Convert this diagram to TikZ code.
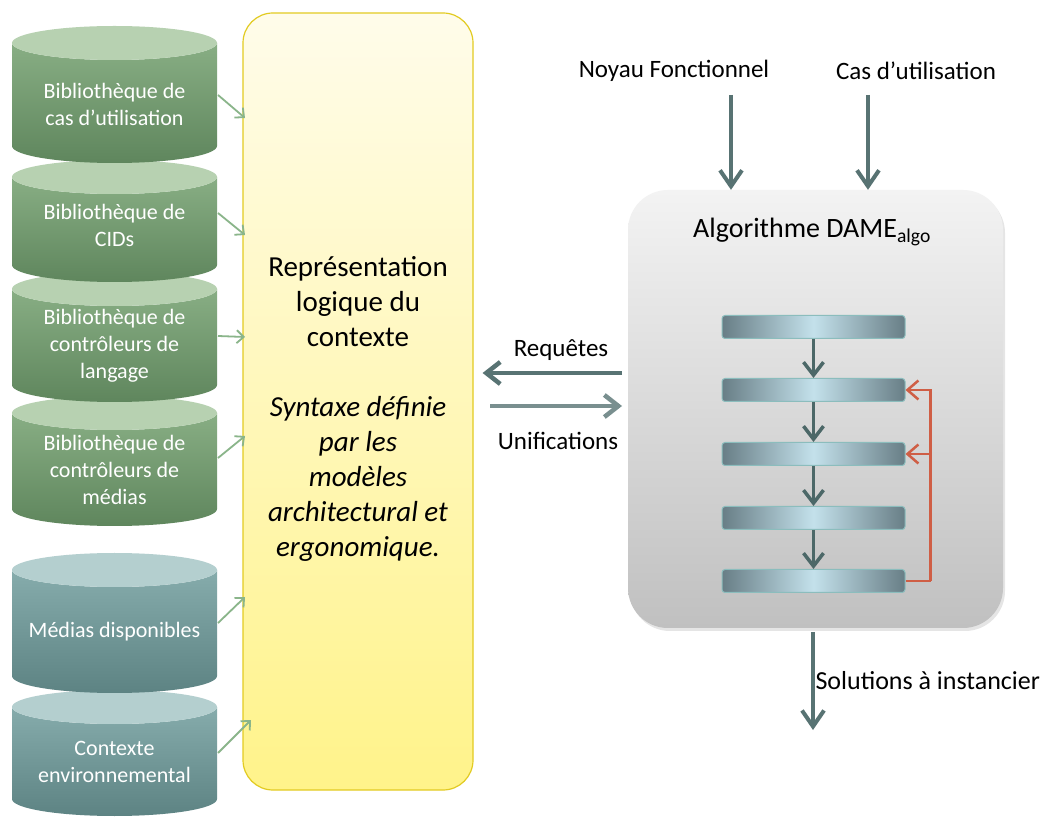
\documentclass[tikz,border=0pt]{standalone}
\usepackage{fontspec}
\setmainfont{Carlito}
\usetikzlibrary{arrows.meta,shadows}
\definecolor{gtop}{HTML}{B7D1B1}
\definecolor{gbodyA}{HTML}{88AE84}
\definecolor{gbodyB}{HTML}{5F865D}
\definecolor{ttop}{HTML}{B4CFCF}
\definecolor{tbodyA}{HTML}{86ACAC}
\definecolor{tbodyB}{HTML}{5D8383}
\definecolor{yelA}{HTML}{FFFCEA}
\definecolor{yelB}{HTML}{FFF38A}
\definecolor{yelD}{HTML}{E2CB22}
\definecolor{greyA}{HTML}{F3F3F3}
\definecolor{greyB}{HTML}{C0C0C0}
\definecolor{barEnd}{HTML}{687E86}
\definecolor{barMid}{HTML}{C4E1EB}
\definecolor{barLine}{HTML}{8BBDBD}
\definecolor{darkArr}{HTML}{587373}
\definecolor{barArr}{HTML}{4C6868}
\definecolor{greenArr}{HTML}{8AB58A}
\definecolor{redArr}{HTML}{CF5E45}
\newcommand\drawcyl[5]{%
  \shade[top color=#4,bottom color=#5] (12,#1-17) -- (12,#2+17)
    arc[start angle=180,end angle=360,x radius=102.5,y radius=17] -- (217,#1-17)
    arc[start angle=0,end angle=-180,x radius=102.5,y radius=17] -- cycle;
  \fill[#3] (114.5,#1-17) ellipse[x radius=102.5,y radius=17];
}
\tikzset{
  cyltext/.style={text=white,align=center,font=\fontsize{22}{27}\selectfont},
  lbl/.style={text=black,font=\fontsize{25}{30}\selectfont},
  greenarrow/.style={draw=greenArr,line width=1.8pt,-{Straight Barb[length=7pt,width=13pt]}},
  bigarrow/.style={draw=darkArr,line width=4pt,-{Straight Barb[length=16pt,width=22pt]}},
  bararrow/.style={draw=barArr,line width=3.5pt,-{Straight Barb[length=13pt,width=20pt]}},
  redline/.style={draw=redArr,line width=2.5pt},
  bar/.style={rounded corners=3pt,minimum width=183pt,minimum height=23pt,inner sep=0pt,
    left color=barEnd,right color=barEnd,middle color=barMid,draw=barLine,line width=1pt},
}
\begin{document}
\begin{tikzpicture}[x=1pt,y=1pt]
\path[use as bounding box,fill=white] (0,0) rectangle (1042,820);
% cylinders (bottom first so upper ones overlap)
\drawcyl{130}{4}{ttop}{tbodyA}{tbodyB}
\drawcyl{267}{127}{ttop}{tbodyA}{tbodyB}
\drawcyl{424}{294}{gtop}{gbodyA}{gbodyB}
\drawcyl{548}{418}{gtop}{gbodyA}{gbodyB}
\drawcyl{660}{538}{gtop}{gbodyA}{gbodyB}
\drawcyl{794}{657}{gtop}{gbodyA}{gbodyB}
\node[cyltext] (c1) at (114.5,716) {Bibliothèque de\\cas d’utilisation};
\node[cyltext] (c2) at (114.5,595) {Bibliothèque de\\CIDs};
\node[cyltext] (c3) at (114.5,474) {Bibliothèque de\\contrôleurs de\\langage};
\node[cyltext] (c4) at (114.5,350) {Bibliothèque de\\contrôleurs de\\médias};
\node[cyltext] (c5) at (114.5,188) {Médias disponibles};
\node[cyltext] (c6) at (114.5,58) {Contexte\\environnemental};
% yellow box
\node[rounded corners=30pt,minimum width=230pt,minimum height=777pt,top color=yelA,bottom color=yelB,
  draw=yelD,line width=1.2pt] (rep) at (358,418.5) {};
\node[align=center,font=\fontsize{29}{35}\selectfont] (reptext) at (358,411)
  {Représentation\\logique du\\contexte\\[35pt]\textit{Syntaxe définie}\\\textit{par les}\\\textit{modèles}\\\textit{architectural et}\\\textit{ergonomique.}};
% green arrows
\coordinate (g1s) at (218,725); \coordinate (g1e) at (245,702);
\coordinate (g2s) at (218,607); \coordinate (g2e) at (245,585);
\coordinate (g3s) at (218,484); \coordinate (g3e) at (245,483);
\coordinate (g4s) at (218,362); \coordinate (g4e) at (245,384);
\coordinate (g5s) at (218,197); \coordinate (g5e) at (245,223);
\coordinate (g6s) at (218,67);  \coordinate (g6e) at (251,100);
\foreach \i in {1,...,6} {\draw[greenarrow] (g\i s) -- (g\i e);}
% algorithm box
\node[rounded corners=40pt,minimum width=375pt,minimum height=438pt,top color=greyA,bottom color=greyB,
  drop shadow={opacity=0.2,shadow xshift=2pt,shadow yshift=-3pt}] (algo) at (815.5,411) {};
\node[font=\fontsize{28}{34}\selectfont] (title) at (812,588) {Algorithme DAME\textsubscript{algo}};
\node[bar] (b1) at (813.5,493) {};
\node[bar] (b2) at (813.5,430) {};
\node[bar] (b3) at (813.5,366) {};
\node[bar] (b4) at (813.5,302) {};
\node[bar] (b5) at (813.5,239) {};
\draw[bararrow] (b1.south) -- (b2.north);
\draw[bararrow] (b2.south) -- (b3.north);
\draw[bararrow] (b3.south) -- (b4.north);
\draw[bararrow] (b4.south) -- (b5.north);
\draw[redline] (b5.east) -- ++(25,0) coordinate (r1);
\draw[redline,-{Straight Barb[length=11pt,width=19pt]}] (r1) |- (b2.east);
\draw[redline,-{Straight Barb[length=11pt,width=19pt]}] (r1 |- b3.east) -- (b3.east);
% top inputs
\node[lbl] (nf) at (674,749) {Noyau Fonctionnel};
\node[lbl] (cu) at (916,749) {Cas d’utilisation};
\coordinate (nfa) at (731,725);
\coordinate (cua) at (868,725);
\draw[bigarrow] (nfa) -- (nfa |- algo.north);
\draw[bigarrow] (cua) -- (cua |- algo.north);
% requests / unifications
\node[lbl] (req) at (561,470) {Requêtes};
\node[lbl] (uni) at (558,379) {Unifications};
\coordinate (reqs) at (622,447);
\coordinate (unis) at (490,414);
\draw[draw=darkArr,line width=4.5pt,-{Straight Barb[length=14pt,width=22pt]}] (reqs) -- ([xshift=9pt]rep.east |- reqs);
\draw[draw=darkArr!80!white,line width=4.5pt,-{Straight Barb[length=14pt,width=22pt]}] (unis) -- (unis -| reqs);
% output
\coordinate (sa) at (813,188);
\coordinate (se) at (813,90);
\draw[bigarrow] (sa) -- (se);
\node[lbl,anchor=west,font=\fontsize{26}{31}\selectfont] (sol) at (812,139) {Solutions à instancier};
\end{tikzpicture}
\end{document}
